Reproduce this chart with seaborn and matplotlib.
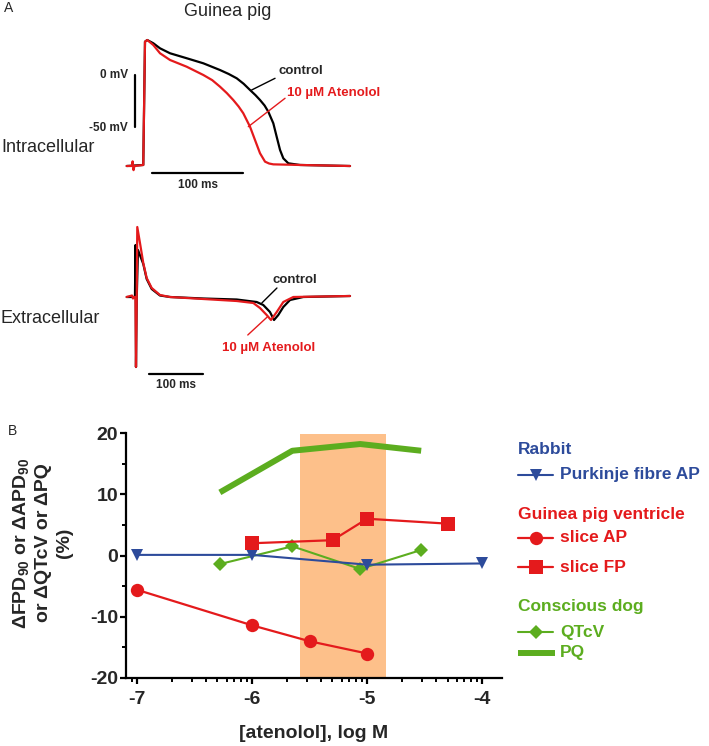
import numpy as np
import pandas as pd
import seaborn as sns
import matplotlib.pyplot as plt

sns.set_style("white")
plt.rcParams['font.family'] = ['Liberation Sans', 'DejaVu Sans']
plt.rcParams['mathtext.fontset'] = 'custom'
plt.rcParams['mathtext.rm'] = 'Liberation Sans:bold'
plt.rcParams['mathtext.it'] = 'Liberation Sans:bold'
plt.rcParams['mathtext.bf'] = 'Liberation Sans:bold'

# ---- panel A: intracellular action potential (time ms, membrane potential mV)
ap_ctrl_t = [-19.0, -0.8, 1.1, 3.6, 10.2, 17.6, 28.6, 46.9, 65.2, 83.5, 93.0, 101.9, 109.5,
             116.5, 122.5, 127.5, 132.5, 136.6, 142.1, 145.8, 149.5, 153.1, 158.6, 171.4, 226.4]
ap_ctrl_v = [-88.0, -87.0, 32.2, 33.8, 30.7, 25.8, 21.0, 16.2, 11.3, 4.8, 1.0, -3.2, -8.5,
             -14.5, -19.5, -24.2, -29.5, -35.5, -46.7, -59.7, -72.5, -80.6, -85.4, -87.0, -88.0]
ap_aten_t = [-19.0, -13.5, -12.5, -11.5, -10.5, -0.8, 1.1, 3.6, 10.2, 17.6, 28.6, 46.9,
             65.2, 75.0, 83.5, 91.0, 98.1, 104.0, 109.1, 116.5, 122.0, 127.5, 133.0, 137.5,
             142.1, 171.4, 226.4]
ap_aten_v = [-88.0, -88.0, -83.5, -92.0, -88.0, -87.0, 32.2, 33.8, 29.0, 21.0, 14.5, 8.0,
             0.0, -5.0, -11.3, -17.5, -24.2, -30.5, -37.0, -50.0, -62.9, -75.7, -83.8, -85.6,
             -86.4, -87.0, -88.0]

# ---- panel A: extracellular field potential (time ms, amplitude a.u.)
fp_ctrl_t = [-17.2, -1.9, -0.9, 0.0, 1.3, 3.7, 13.5, 19.8, 29.1, 44.4, 63.0, 124.6, 186.5,
             223.5, 235.7, 248.1, 255.6, 263.5, 272.8, 285.2, 309.8, 396.3]
fp_ctrl_v = [0.0, 0.0, 5.2, -7.0, -0.3, 4.7, 3.3, 1.8, 0.8, 0.15, 0.0, -0.15, -0.25,
             -0.5, -0.8, -1.5, -2.3, -1.8, -1.0, -0.3, 0.0, 0.1]
fp_aten_t = [-17.2, -7.4, -5.6, -3.7, -0.9, 0.0, 1.3, 2.4, 7.4, 13.5, 19.8, 29.1, 44.4,
             63.0, 124.6, 186.5, 217.2, 229.6, 242.0, 250.0, 260.6, 272.8, 291.3, 396.3]
fp_aten_v = [0.0, 0.15, -0.15, 0.0, 0.0, -7.0, -0.3, 7.0, 5.4, 3.4, 1.9, 0.9, 0.2,
             0.0, -0.2, -0.4, -0.6, -1.1, -1.8, -2.3, -1.5, -0.5, 0.0, 0.1]

# ---- panel B: concentration-response (log M, % change)
purk_x = [-7, -6, -5, -4]
purk_y = [0.1, 0.1, -1.5, -1.3]
sliceap_x = [-7, -6, -5.5, -5]
sliceap_y = [-5.6, -11.4, -14.0, -16.0]
slicefp_x = [-6, -5.3, -5, -4.3]
slicefp_y = [2.0, 2.5, 6.0, 5.2]
dog_x = [-6.28, -5.65, -5.06, -4.53]
qtcv_y = [-1.4, 1.5, -2.2, 0.9]
pq_y = [10.3, 17.1, 18.2, 17.1]
plasma_range = [-5.58, -4.835]

RED = '#E41A1C'
BLUE = '#2D4B9B'
GREEN = '#5CAD1F'
ORANGE = '#FDC08A'

W, H = 709, 746
fig = plt.figure(figsize=(W / 100, H / 100), dpi=100)


def box(x0, y0, x1, y1):
    return [x0 / W, 1 - y1 / H, (x1 - x0) / W, (y1 - y0) / H]


def ftext(x, y, s, **kw):
    fig.text(x / W, 1 - y / H, s, **kw)


# ---------------- intracellular
ax1 = fig.add_axes(box(120, 30, 360, 190))
sns.lineplot(x=ap_ctrl_t, y=ap_ctrl_v, sort=False, estimator=None, color='black', lw=1.6, ax=ax1)
sns.lineplot(x=ap_aten_t, y=ap_aten_v, sort=False, estimator=None, color=RED, lw=1.6, ax=ax1)
ax1.set_xlim(-26.37, 237.36)
ax1.set_ylim(-111.2, 43.5)
ax1.axis('off')
ax1.plot([-9.9, -9.9], [0, -50], color='black', lw=1.6)
ax1.plot([8.8, 108.8], [-94.8, -94.8], color='black', lw=1.6)
ax1.text(58.8, -106.4, '100 ms', ha='center', va='center', fontsize=8.5, fontweight='bold')
ax1.text(-17.6, 0, '0 mV', ha='right', va='center', fontsize=8.5, fontweight='bold')
ax1.text(-17.6, -51.3, '-50 mV', ha='right', va='center', fontsize=8.5, fontweight='bold')
ax1.plot([118.3, 144], [-14.5, -3.2], color='black', lw=1.0)
ax1.text(147.6, 3.9, 'control', ha='left', va='center', fontsize=9.5, fontweight='bold')
ax1.plot([114.6, 155], [-50, -22.5], color=RED, lw=1.0)
ax1.text(156.8, -17.7, '10 µM Atenolol', ha='left', va='center', fontsize=9.5,
         fontweight='bold', color=RED)

# ---------------- extracellular
ax2 = fig.add_axes(box(120, 220, 360, 380))
sns.lineplot(x=fp_ctrl_t, y=fp_ctrl_v, sort=False, estimator=None, color='black', lw=1.6, ax=ax2)
sns.lineplot(x=fp_aten_t, y=fp_aten_v, sort=False, estimator=None, color=RED, lw=1.6, ax=ax2)
ax2.set_xlim(-29.6, 414.8)
ax2.set_ylim(-8.3, 7.7)
ax2.axis('off')
ax2.plot([24.1, 124.1], [-7.7, -7.7], color='black', lw=1.6, clip_on=False)
ax2.text(74.1, -8.8, '100 ms', ha='center', va='center', fontsize=8.5, fontweight='bold',
         clip_on=False)
ax2.plot([233, 261], [-0.6, 0.9], color='black', lw=1.0)
ax2.text(252, 1.7, 'control', ha='left', va='center', fontsize=9.5, fontweight='bold')
ax2.plot([207, 243], [-3.8, -2.0], color=RED, lw=1.0)
ax2.text(246, -5.1, '10 µM Atenolol', ha='center', va='center', fontsize=9.5,
         fontweight='bold', color=RED)

ftext(4, 8, 'A', fontsize=10, ha='left', va='center')
ftext(228, 12, 'Guinea pig', fontsize=13, ha='center', va='center')
ftext(1, 147, 'Intracellular', fontsize=13, ha='left', va='center')
ftext(1, 318, 'Extracellular', fontsize=13, ha='left', va='center')
ftext(8, 431, 'B', fontsize=10, ha='left', va='center')

# ---------------- panel B
axB = fig.add_axes(box(126, 433, 501.7, 678))
axB.axvspan(plasma_range[0], plasma_range[1], ymin=0, ymax=0.995, color=ORANGE, lw=0, zorder=0)
sns.lineplot(x=dog_x, y=pq_y, color=GREEN, lw=4.3, ax=axB, solid_capstyle='butt')
sns.lineplot(x=dog_x, y=qtcv_y, color=GREEN, lw=1.5, marker='D', markersize=7.2,
             markeredgewidth=0, ax=axB)
sns.lineplot(x=purk_x, y=purk_y, color=BLUE, lw=1.5, marker='v', markersize=9,
             markeredgewidth=0, ax=axB)
sns.lineplot(x=sliceap_x, y=sliceap_y, color=RED, lw=1.6, marker='o', markersize=9.6,
             markeredgewidth=0, ax=axB)
sns.lineplot(x=slicefp_x, y=slicefp_y, color=RED, lw=1.6, marker='s', markersize=10,
             markeredgewidth=0, ax=axB)

axB.set_xlim(-7.096, -3.83)
axB.set_ylim(-20, 20)
sns.despine(ax=axB)
for s in ['left', 'bottom']:
    axB.spines[s].set_linewidth(1.6)
    axB.spines[s].set_color('black')
axB.set_xticks([-7, -6, -5, -4])
axB.set_xticklabels(['-7', '-6', '-5', '-4'])
minor = [d + np.log10(k) for d in range(-8, -3) for k in range(2, 10)]
axB.set_xticks([m for m in minor if -7.096 <= m <= -3.83], minor=True)
axB.set_yticks([-20, -10, 0, 10, 20])
axB.set_yticklabels(['-20', '-10', '0', '10', '20'])
axB.set_yticks([-15, -5, 5, 15], minor=True)
axB.tick_params(which='major', direction='out', length=4.5, width=1.6, labelsize=14,
                bottom=True, left=True, color='black')
axB.tick_params(which='minor', direction='out', length=3, width=1.4, bottom=True, left=True,
                color='black')
axB.tick_params(axis='x', which='major', pad=5)
axB.tick_params(axis='y', which='major', pad=1)
for lab in axB.get_xticklabels() + axB.get_yticklabels():
    lab.set_fontweight('bold')
axB.set_xlabel('[atenolol], log M', fontsize=14, fontweight='bold', labelpad=12)
axB.set_ylabel('')
ftext(42, 543, 'ΔFPD$_{90}$ or ΔAPD$_{90}$\nor ΔQTcV or ΔPQ\n(%)', rotation=90,
      ha='center', va='center', fontsize=14, fontweight='bold', linespacing=1.3,
      multialignment='center')

# ---------------- legend
axL = fig.add_axes(box(505, 430, 709, 680))
axL.set_xlim(505, 709)
axL.set_ylim(680, 430)
axL.axis('off')
fs = 12.5
axL.text(518, 450, 'Rabbit', color=BLUE, fontsize=fs, fontweight='bold', va='center')
axL.plot([518, 553], [475, 475], color=BLUE, lw=1.5)
axL.plot([535.5], [475], color=BLUE, marker='v', markersize=9, markeredgewidth=0)
axL.text(560, 475, 'Purkinje fibre AP', color=BLUE, fontsize=fs, fontweight='bold', va='center')
axL.text(518, 515, 'Guinea pig ventricle', color=RED, fontsize=fs, fontweight='bold', va='center')
axL.plot([518, 553], [538, 538], color=RED, lw=1.6)
axL.plot([535.5], [538], color=RED, marker='o', markersize=9.6, markeredgewidth=0)
axL.text(560, 538, 'slice AP', color=RED, fontsize=fs, fontweight='bold', va='center')
axL.plot([518, 553], [567, 567], color=RED, lw=1.6)
axL.plot([535.5], [567], color=RED, marker='s', markersize=10, markeredgewidth=0)
axL.text(560, 567, 'slice FP', color=RED, fontsize=fs, fontweight='bold', va='center')
axL.text(518, 607, 'Conscious dog', color=GREEN, fontsize=fs, fontweight='bold', va='center')
axL.plot([518, 553], [632, 632], color=GREEN, lw=1.5)
axL.plot([535.5], [632], color=GREEN, marker='D', markersize=7.2, markeredgewidth=0)
axL.text(560, 632, 'QTcV', color=GREEN, fontsize=fs, fontweight='bold', va='center')
axL.plot([518, 555], [653, 653], color=GREEN, lw=4.3, solid_capstyle='butt')
axL.text(560, 653, 'PQ', color=GREEN, fontsize=fs, fontweight='bold', va='center')

fig.savefig('out.png', dpi=100)
